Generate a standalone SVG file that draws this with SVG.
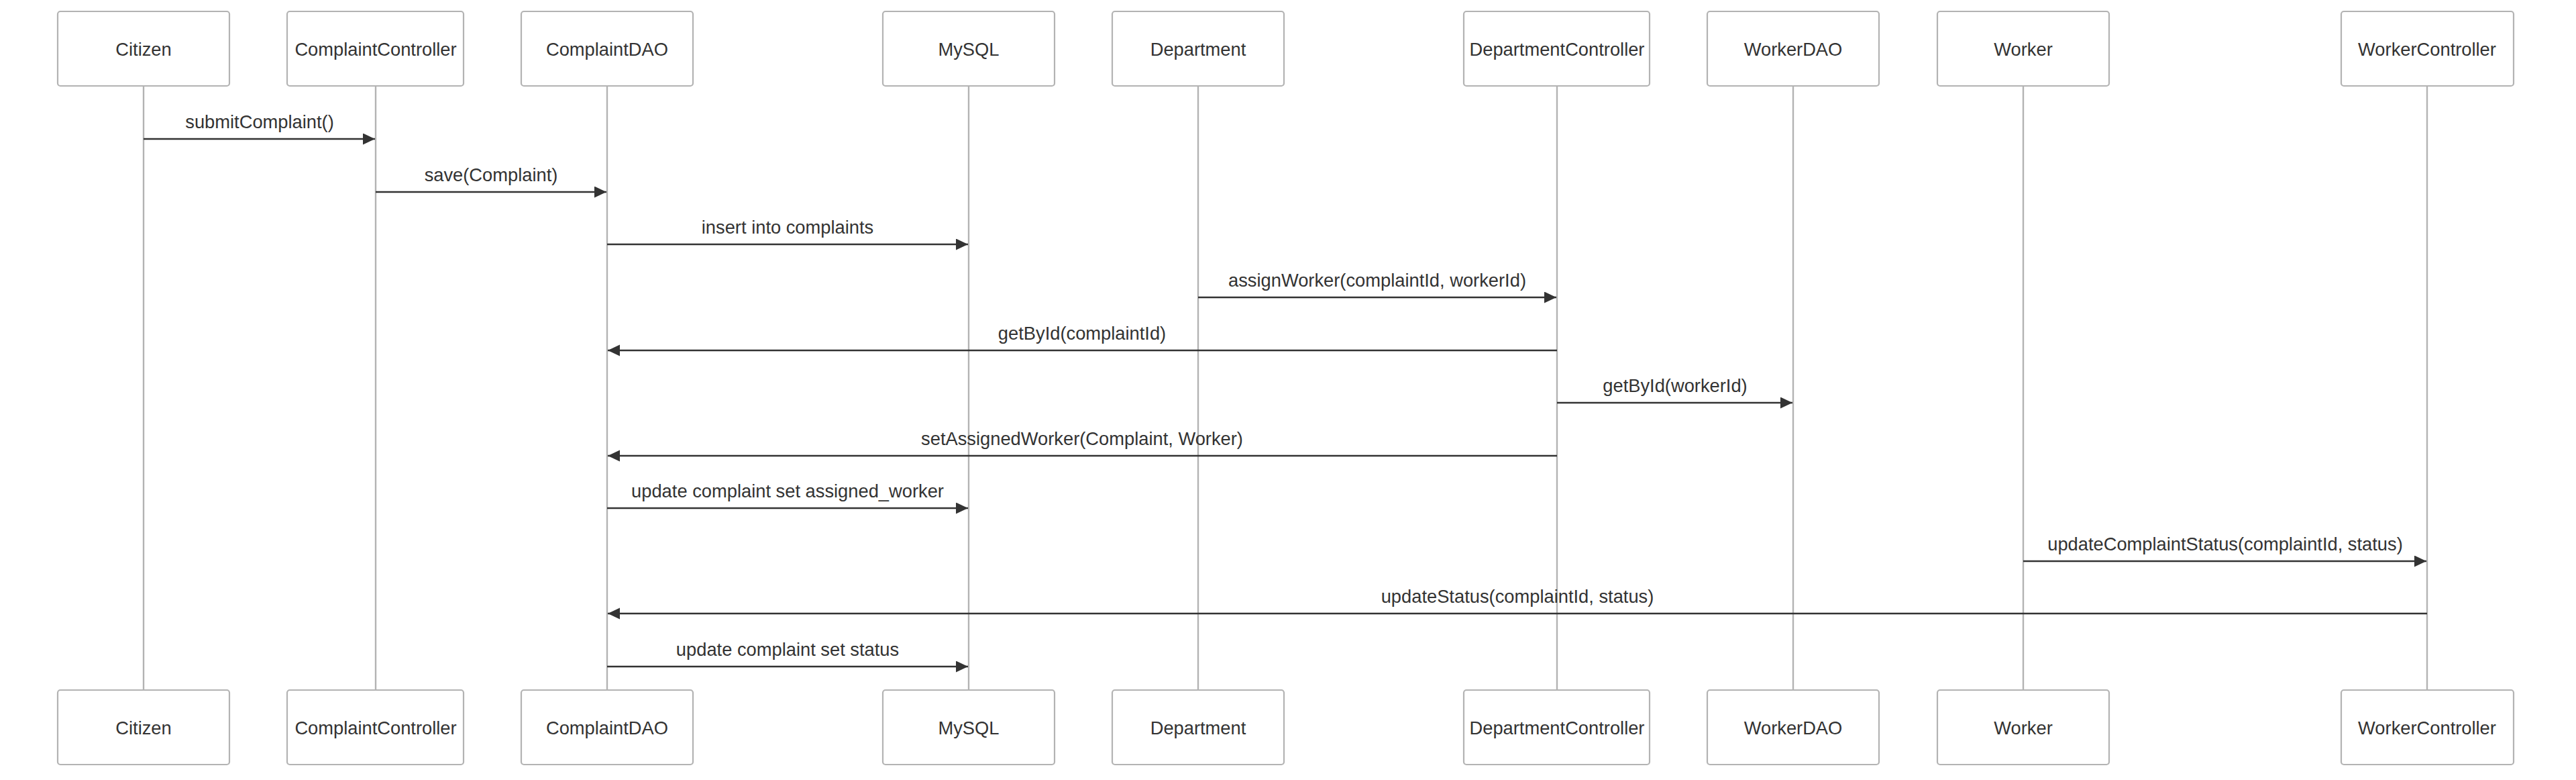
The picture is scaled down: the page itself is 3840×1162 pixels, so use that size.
<svg xmlns="http://www.w3.org/2000/svg" width="3840" height="1162" viewBox="0 0 3840 1162">
<style>
.box{fill:#fff;stroke:#b3b3b3;stroke-width:2.2}
.life{stroke:#b3b3b3;stroke-width:2.4}
.lbl{font-family:"Liberation Sans",Arial,sans-serif;font-size:27.3px;fill:#333;text-anchor:middle;dominant-baseline:central}
.msg{stroke:#333;stroke-width:2.7;fill:none}
.mtxt{font-family:"Liberation Sans",Arial,sans-serif;font-size:27.3px;fill:#333;text-anchor:middle}
</style>
<defs>
<marker id="ah" markerUnits="userSpaceOnUse" markerWidth="18" markerHeight="18" refX="18" refY="8.5" orient="auto">
<path d="M0,0 L18,8.5 L0,17 z" fill="#333"/>
</marker>
</defs>
<rect width="3840" height="1162" fill="#fff"/>
<g id="lifelines">
<line class="life" x1="214" y1="128" x2="214" y2="1028"/>
<line class="life" x1="560" y1="128" x2="560" y2="1028"/>
<line class="life" x1="905" y1="128" x2="905" y2="1028"/>
<line class="life" x1="1444" y1="128" x2="1444" y2="1028"/>
<line class="life" x1="1786" y1="128" x2="1786" y2="1028"/>
<line class="life" x1="2321" y1="128" x2="2321" y2="1028"/>
<line class="life" x1="2673" y1="128" x2="2673" y2="1028"/>
<line class="life" x1="3016" y1="128" x2="3016" y2="1028"/>
<line class="life" x1="3618" y1="128" x2="3618" y2="1028"/>
</g>
<g id="citizen">
<rect class="box" x="86" y="17" width="256" height="111" rx="4"/><text class="lbl" x="214" y="73">Citizen</text>
<rect class="box" x="86" y="1028" width="256" height="111" rx="4"/><text class="lbl" x="214" y="1084">Citizen</text>
</g>
<g id="complaintController">
<rect class="box" x="428" y="17" width="263" height="111" rx="4"/><text class="lbl" x="560" y="73">ComplaintController</text>
<rect class="box" x="428" y="1028" width="263" height="111" rx="4"/><text class="lbl" x="560" y="1084">ComplaintController</text>
</g>
<g id="complaintDAO">
<rect class="box" x="777" y="17" width="256" height="111" rx="4"/><text class="lbl" x="905" y="73">ComplaintDAO</text>
<rect class="box" x="777" y="1028" width="256" height="111" rx="4"/><text class="lbl" x="905" y="1084">ComplaintDAO</text>
</g>
<g id="mysql">
<rect class="box" x="1316" y="17" width="256" height="111" rx="4"/><text class="lbl" x="1444" y="73">MySQL</text>
<rect class="box" x="1316" y="1028" width="256" height="111" rx="4"/><text class="lbl" x="1444" y="1084">MySQL</text>
</g>
<g id="department">
<rect class="box" x="1658" y="17" width="256" height="111" rx="4"/><text class="lbl" x="1786" y="73">Department</text>
<rect class="box" x="1658" y="1028" width="256" height="111" rx="4"/><text class="lbl" x="1786" y="1084">Department</text>
</g>
<g id="departmentController">
<rect class="box" x="2182" y="17" width="277" height="111" rx="4"/><text class="lbl" x="2321" y="73">DepartmentController</text>
<rect class="box" x="2182" y="1028" width="277" height="111" rx="4"/><text class="lbl" x="2321" y="1084">DepartmentController</text>
</g>
<g id="workerDAO">
<rect class="box" x="2545" y="17" width="256" height="111" rx="4"/><text class="lbl" x="2673" y="73">WorkerDAO</text>
<rect class="box" x="2545" y="1028" width="256" height="111" rx="4"/><text class="lbl" x="2673" y="1084">WorkerDAO</text>
</g>
<g id="worker">
<rect class="box" x="2888" y="17" width="256" height="111" rx="4"/><text class="lbl" x="3016" y="73">Worker</text>
<rect class="box" x="2888" y="1028" width="256" height="111" rx="4"/><text class="lbl" x="3016" y="1084">Worker</text>
</g>
<g id="workerController">
<rect class="box" x="3490" y="17" width="257" height="111" rx="4"/><text class="lbl" x="3618" y="73">WorkerController</text>
<rect class="box" x="3490" y="1028" width="257" height="111" rx="4"/><text class="lbl" x="3618" y="1084">WorkerController</text>
</g>
<g id="connectors">
<line class="msg" x1="214" y1="207" x2="559" y2="207" marker-end="url(#ah)"/>
<text class="mtxt" x="387" y="191">submitComplaint()</text>
<line class="msg" x1="560" y1="286" x2="904" y2="286" marker-end="url(#ah)"/>
<text class="mtxt" x="732" y="270">save(Complaint)</text>
<line class="msg" x1="905" y1="364" x2="1443" y2="364" marker-end="url(#ah)"/>
<text class="mtxt" x="1174" y="348">insert into complaints</text>
<line class="msg" x1="1786" y1="443" x2="2320" y2="443" marker-end="url(#ah)"/>
<text class="mtxt" x="2053" y="427">assignWorker(complaintId, workerId)</text>
<line class="msg" x1="2321" y1="522" x2="906" y2="522" marker-end="url(#ah)"/>
<text class="mtxt" x="1613" y="506">getById(complaintId)</text>
<line class="msg" x1="2321" y1="600" x2="2672" y2="600" marker-end="url(#ah)"/>
<text class="mtxt" x="2497" y="584">getById(workerId)</text>
<line class="msg" x1="2321" y1="679" x2="906" y2="679" marker-end="url(#ah)"/>
<text class="mtxt" x="1613" y="663">setAssignedWorker(Complaint, Worker)</text>
<line class="msg" x1="905" y1="757" x2="1443" y2="757" marker-end="url(#ah)"/>
<text class="mtxt" x="1174" y="741">update complaint set assigned_worker</text>
<line class="msg" x1="3016" y1="836" x2="3617" y2="836" marker-end="url(#ah)"/>
<text class="mtxt" x="3317" y="820">updateComplaintStatus(complaintId, status)</text>
<line class="msg" x1="3618" y1="914" x2="906" y2="914" marker-end="url(#ah)"/>
<text class="mtxt" x="2262" y="898">updateStatus(complaintId, status)</text>
<line class="msg" x1="905" y1="993" x2="1443" y2="993" marker-end="url(#ah)"/>
<text class="mtxt" x="1174" y="977">update complaint set status</text>
</g>
</svg>
